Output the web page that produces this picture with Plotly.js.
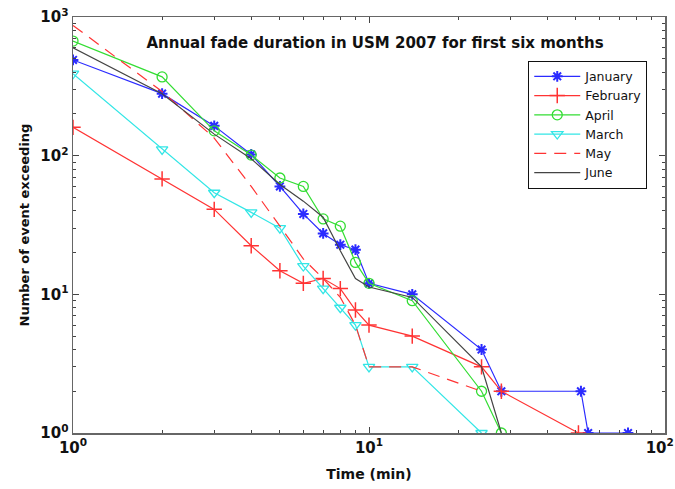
<!DOCTYPE html>
<html>
<head>
<meta charset="utf-8">
<script src="https://cdn.plot.ly/plotly-3.0.1.min.js"></script>
<style>html,body{margin:0;padding:0;background:#fff;}#chart{width:675px;height:489px;}</style>
</head>
<body>
<div id="chart"></div>
<script>
// Data
const janX = [1, 2, 3, 4, 5, 6, 7, 8, 9, 10, 14, 24, 28, 52, 55, 75];
const janY = [490, 280, 164, 102, 60, 38, 27.5, 22.8, 21, 12, 10, 4, 2, 2, 1, 1];

const febX = [1, 2, 3, 4, 5, 6, 7, 8, 9, 10, 14, 24, 28, 51];
const febY = [160, 68, 41, 22.4, 14.8, 12, 13, 11, 7.7, 6, 5, 3, 2, 1];

const aprX = [1, 2, 3, 4, 5, 6, 7, 8, 9, 10, 14, 24, 28];
const aprY = [670, 370, 151, 101, 69, 60, 35, 31, 17, 12, 9, 2, 1];

const marX = [1, 2, 3, 4, 5, 6, 7, 8, 9, 10, 14, 24];
const marY = [390, 111, 54, 39, 30, 16, 11, 8, 6, 3, 3, 1];

const mayX = [1, 2, 3, 4, 5, 6, 7, 8, 9, 10, 14, 24];
const mayY = [870, 290, 134, 60, 31, 18, 13, 9.5, 6, 3, 3, 2];

const junX = [1, 2, 3, 4, 5, 6, 7, 8, 9, 10, 14, 24, 28];
const junY = [600, 280, 143, 95, 62, 47, 36, 20.6, 13, 11.3, 9.5, 3, 1];

const seriesNames = ['January', 'February', 'April', 'March', 'May', 'June'];

const xMajor = [1, 10, 100];
const xMajorText = ['10<sup>0</sup>', '10<sup>1</sup>', '10<sup>2</sup>\u00a0\u00a0'];
const yMajor = [1, 10, 100, 1000];
const yMajorText = ['10<sup>0</sup>', '10<sup>1</sup>', '10<sup>2</sup>', '10<sup>3</sup>'];

function minorVals(maxDecade) {
  const v = [];
  for (let d = 0; d < maxDecade; d++) for (let k = 2; k <= 9; k++) v.push(k * Math.pow(10, d));
  return v;
}

const FONT = 'DejaVu Sans, Verdana, sans-serif';

const traces = [
  {x: janX, y: janY, name: seriesNames[0], mode: 'lines+markers',
   line: {color: '#2b2bff', width: 1.2},
   marker: {symbol: 'asterisk-open', size: 9, color: '#2b2bff', line: {color: '#2b2bff', width: 2}}},
  {x: febX, y: febY, name: seriesNames[1], mode: 'lines+markers',
   line: {color: '#ff3333', width: 1.2},
   marker: {symbol: 'cross-thin-open', size: 11, color: '#ff3333', line: {color: '#ff3333', width: 1.5}}},
  {x: aprX, y: aprY, name: seriesNames[2], mode: 'lines+markers',
   line: {color: '#33dd33', width: 1.2},
   marker: {symbol: 'circle-open', size: 10, color: '#33dd33', line: {color: '#33dd33', width: 1.3}}},
  {x: marX, y: marY, name: seriesNames[3], mode: 'lines+markers',
   line: {color: '#33e6e6', width: 1.2},
   marker: {symbol: 'triangle-down-open', size: 10, color: '#33e6e6', line: {color: '#33e6e6', width: 1.3}}},
  {x: mayX, y: mayY, name: seriesNames[4], mode: 'lines',
   line: {color: '#ff3333', width: 1.2, dash: '12px,8px'}},
  {x: junX, y: junY, name: seriesNames[5], mode: 'lines',
   line: {color: '#444444', width: 1.2}}
];

const axisCommon = {
  type: 'log',
  showgrid: false,
  zeroline: false,
  showline: true,
  linecolor: '#666666',
  linewidth: 1.5,
  mirror: 'ticks',
  ticks: 'inside',
  ticklen: 6,
  tickwidth: 1,
  tickcolor: '#444444',
  tickmode: 'array',
  ticklabeloverflow: 'allow',
  tickfont: {family: FONT, size: 15, color: '#111', weight: 'bold'}
};

const layout = {
  width: 675,
  height: 489,
  margin: {l: 73, r: 10, t: 17, b: 56},
  paper_bgcolor: '#ffffff',
  plot_bgcolor: '#ffffff',
  showlegend: true,
  title: {
    text: 'Annual fade duration in USM 2007 for first six months',
    font: {family: FONT, size: 15, color: '#111', weight: 'bold'},
    x: 375 / 675, xanchor: 'center', xref: 'container',
    y: 1 - 43 / 489, yanchor: 'middle', yref: 'container'
  },
  xaxis: Object.assign({}, axisCommon, {
    range: [0, 2],
    tickvals: xMajor,
    ticktext: xMajorText,
    minor: {tickmode: 'array', tickvals: minorVals(2), ticks: 'inside', ticklen: 3, tickcolor: '#444444', showgrid: false},
    title: {text: 'Time (min)', font: {family: FONT, size: 14, color: '#111', weight: 'bold'}, standoff: 13}
  }),
  yaxis: Object.assign({}, axisCommon, {
    range: [0, 3],
    tickvals: yMajor,
    ticktext: yMajorText,
    minor: {tickmode: 'array', tickvals: minorVals(3), ticks: 'inside', ticklen: 3, tickcolor: '#444444', showgrid: false},
    title: {text: 'Number of event exceeding', font: {family: FONT, size: 13, color: '#111', weight: 'bold'}, standoff: 8}
  }),
  legend: {
    x: 0.769, y: 0.895, xanchor: 'left', yanchor: 'top',
    bgcolor: '#ffffff', bordercolor: '#111111', borderwidth: 1,
    font: {family: FONT, size: 12.5, color: '#111'},
    itemwidth: 46, tracegroupgap: 0
  }
};

Plotly.newPlot('chart', traces, layout, {displayModeBar: false, staticPlot: true});
</script>
</body>
</html>
